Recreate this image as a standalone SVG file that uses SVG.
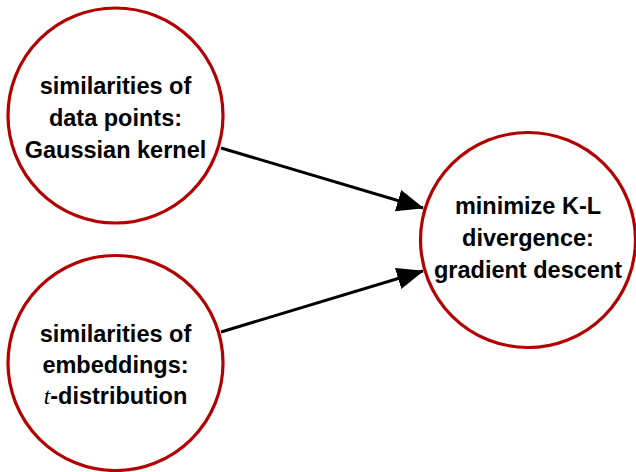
<svg xmlns="http://www.w3.org/2000/svg" width="636" height="472" viewBox="0 0 636 472">
<style>
.node{fill:#fff;stroke:#b30000;stroke-width:3.2}
.lbl{font-family:"Liberation Sans",Arial,sans-serif;font-weight:bold;font-size:23.5px;fill:#000;text-anchor:middle}
.edge{stroke:#000;stroke-width:3;fill:none}
.mi{font-family:"Liberation Serif",serif;font-style:italic;font-weight:normal}
</style>
<defs>
<marker id="ah" markerUnits="userSpaceOnUse" markerWidth="30" markerHeight="26" refX="26" refY="11" orient="auto" viewBox="0 0 30 22">
<path d="M0,0 L27,11 L0,22 Z" fill="#000"/>
</marker>
</defs>
<rect width="636" height="472" fill="#fff"/>
<g id="edges">
<line class="edge" x1="221" y1="148" x2="423" y2="208" marker-end="url(#ah)"/>
<line class="edge" x1="221" y1="332" x2="423" y2="271" marker-end="url(#ah)"/>
</g>
<g id="n1">
<circle class="node" cx="115.5" cy="115.5" r="107.5"/>
<text class="lbl" x="115.5" y="94">similarities of</text>
<text class="lbl" x="115.5" y="126">data points:</text>
<text class="lbl" x="115.5" y="158">Gaussian kernel</text>
</g>
<g id="n2">
<circle class="node" cx="115.5" cy="363" r="107.5"/>
<text class="lbl" x="115.5" y="342">similarities of</text>
<text class="lbl" x="115.5" y="373">embeddings:</text>
<text class="lbl" x="115.5" y="404"><tspan class="mi">t</tspan>-distribution</text>
</g>
<g id="n3">
<circle class="node" cx="528" cy="240" r="107.5"/>
<text class="lbl" x="528" y="214">minimize K-L</text>
<text class="lbl" x="528" y="246">divergence:</text>
<text class="lbl" x="528" y="278">gradient descent</text>
</g>
</svg>
